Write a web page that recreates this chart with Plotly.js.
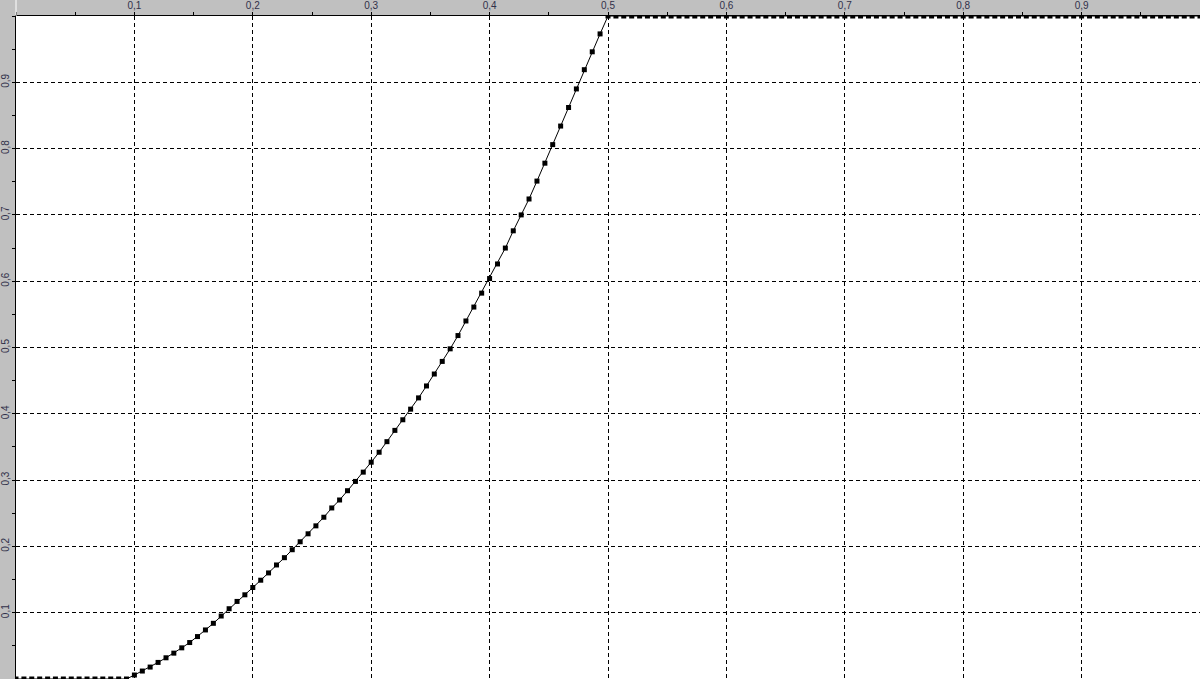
<!DOCTYPE html>
<html>
<head>
<meta charset="utf-8">
<script src="https://cdn.plot.ly/plotly-3.0.1.min.js"></script>
<style>
  html, body { margin: 0; padding: 0; background: #c0c0c0; }
  #chart { width: 1200px; height: 679px; }
</style>
</head>
<body>
<div id="chart"></div>
<script>
// Flat start segment (y = 0)
const xLow = [0, 0.0067, 0.0133, 0.02, 0.0267, 0.0333, 0.04, 0.0467, 0.0533, 0.06, 0.0667, 0.0733, 0.08, 0.0867, 0.0933];
const yLow = [0, 0, 0, 0, 0, 0, 0, 0, 0, 0, 0, 0, 0, 0, 0];

// Rising segment (0.1 .. 0.5)
const xCurve = [0.1, 0.1067, 0.1133, 0.12, 0.1267, 0.1333, 0.14, 0.1467, 0.1533, 0.16, 0.1667, 0.1733,
  0.18, 0.1867, 0.1933, 0.2, 0.2067, 0.2133, 0.22, 0.2267, 0.2333, 0.24, 0.2467, 0.2533,
  0.26, 0.2667, 0.2733, 0.28, 0.2867, 0.2933, 0.3, 0.3067, 0.3133, 0.32, 0.3267, 0.3333,
  0.34, 0.3467, 0.3533, 0.36, 0.3667, 0.3733, 0.38, 0.3867, 0.3933, 0.4, 0.4067, 0.4133,
  0.42, 0.4267, 0.4333, 0.44, 0.4467, 0.4533, 0.46, 0.4667, 0.4733, 0.48, 0.4867, 0.4933, 0.5];
const yCurve = [0.006, 0.012, 0.018, 0.025, 0.032, 0.039, 0.047, 0.055, 0.064, 0.074, 0.084, 0.095,
  0.106, 0.117, 0.127, 0.138, 0.149, 0.160, 0.172, 0.183, 0.195, 0.207, 0.219, 0.231,
  0.244, 0.258, 0.270, 0.284, 0.298, 0.312, 0.327, 0.342, 0.358, 0.375, 0.391, 0.407,
  0.424, 0.442, 0.460, 0.479, 0.498, 0.518, 0.540, 0.561, 0.582, 0.604, 0.626, 0.650,
  0.676, 0.700, 0.724, 0.751, 0.778, 0.806, 0.834, 0.862, 0.890, 0.919, 0.946, 0.973, 1];

// Flat end segment (y = 1)
const xHigh = [0.5067, 0.5133, 0.52, 0.5267, 0.5333, 0.54, 0.5467, 0.5533, 0.56, 0.5667, 0.5733,
  0.58, 0.5867, 0.5933, 0.6, 0.6067, 0.6133, 0.62, 0.6267, 0.6333, 0.64, 0.6467, 0.6533,
  0.66, 0.6667, 0.6733, 0.68, 0.6867, 0.6933, 0.7, 0.7067, 0.7133, 0.72, 0.7267, 0.7333,
  0.74, 0.7467, 0.7533, 0.76, 0.7667, 0.7733, 0.78, 0.7867, 0.7933, 0.8, 0.8067, 0.8133,
  0.82, 0.8267, 0.8333, 0.84, 0.8467, 0.8533, 0.86, 0.8667, 0.8733, 0.88, 0.8867, 0.8933,
  0.9, 0.9067, 0.9133, 0.92, 0.9267, 0.9333, 0.94, 0.9467, 0.9533, 0.96, 0.9667, 0.9733,
  0.98, 0.9867, 0.9933, 1];
const yHigh = [1, 1, 1, 1, 1, 1, 1, 1, 1, 1, 1, 1, 1, 1, 1, 1, 1, 1, 1, 1, 1, 1, 1, 1, 1,
  1, 1, 1, 1, 1, 1, 1, 1, 1, 1, 1, 1, 1, 1, 1, 1, 1, 1, 1, 1, 1, 1, 1, 1, 1,
  1, 1, 1, 1, 1, 1, 1, 1, 1, 1, 1, 1, 1, 1, 1, 1, 1, 1, 1, 1, 1, 1, 1, 1, 1];

// Tick labels
const tickValues = [0, 0.1, 0.2, 0.3, 0.4, 0.5, 0.6, 0.7, 0.8, 0.9, 1];
const xTickText = ["", "0,1", "0,2", "0,3", "0,4", "0,5", "0,6", "0,7", "0,8", "0,9", ""];
const yTickText = ["", "0,1", "0,2", "0,3", "0,4", "0,5", "0,6", "0,7", "0,8", "0,9", ""];

const xs = xLow.concat(xCurve, xHigh);
const ys = yLow.concat(yCurve, yHigh);

const trace = {
  x: xs, y: ys,
  type: 'scatter', mode: 'lines+markers',
  line: { color: '#000000', width: 1 },
  marker: { symbol: 'square', size: 5, color: '#000000' },
  hoverinfo: 'x+y'
};

const tickFont = { family: 'Liberation Sans, Arial, sans-serif', size: 10, color: '#30304a' };

const layout = {
  width: 1200, height: 679,
  margin: { l: 16, r: 0, t: 16, b: 0, pad: 0 },
  paper_bgcolor: '#c0c0c0',
  plot_bgcolor: '#ffffff',
  showlegend: false,
  xaxis: {
    side: 'top', range: [0, 1], fixedrange: true,
    tickmode: 'array', tickvals: tickValues, ticktext: xTickText,
    ticks: 'outside', ticklen: 3, tickcolor: '#000000', tickwidth: 1,
    ticklabelstandoff: -1,
    showline: true, linecolor: '#000000', linewidth: 1,
    showgrid: true, gridcolor: '#000000', gridwidth: 1, griddash: '4px,3px',
    zeroline: false, automargin: false,
    tickfont: tickFont,
    minor: { dtick: 0.05, tick0: 0, ticks: 'outside', ticklen: 3, tickcolor: '#000000', showgrid: false }
  },
  yaxis: {
    range: [0, 1], fixedrange: true,
    tickmode: 'array', tickvals: tickValues, ticktext: yTickText,
    tickangle: -90,
    ticks: 'outside', ticklen: 3, tickcolor: '#000000', tickwidth: 1,
    ticklabelstandoff: -1,
    showline: true, linecolor: '#000000', linewidth: 1,
    showgrid: true, gridcolor: '#000000', gridwidth: 1, griddash: '4px,3px',
    zeroline: false, automargin: false,
    tickfont: tickFont,
    minor: { dtick: 0.05, tick0: 0, ticks: 'outside', ticklen: 3, tickcolor: '#000000', showgrid: false }
  },
  shapes: [
    { type: 'line', xref: 'paper', yref: 'paper', x0: 0, x1: 0, y0: 1, y1: 1.03, line: { color: '#ffffff', width: 1 }, layer: 'above' }
  ]
};

Plotly.newPlot('chart', [trace], layout, { displayModeBar: false, staticPlot: true });
</script>
</body>
</html>
